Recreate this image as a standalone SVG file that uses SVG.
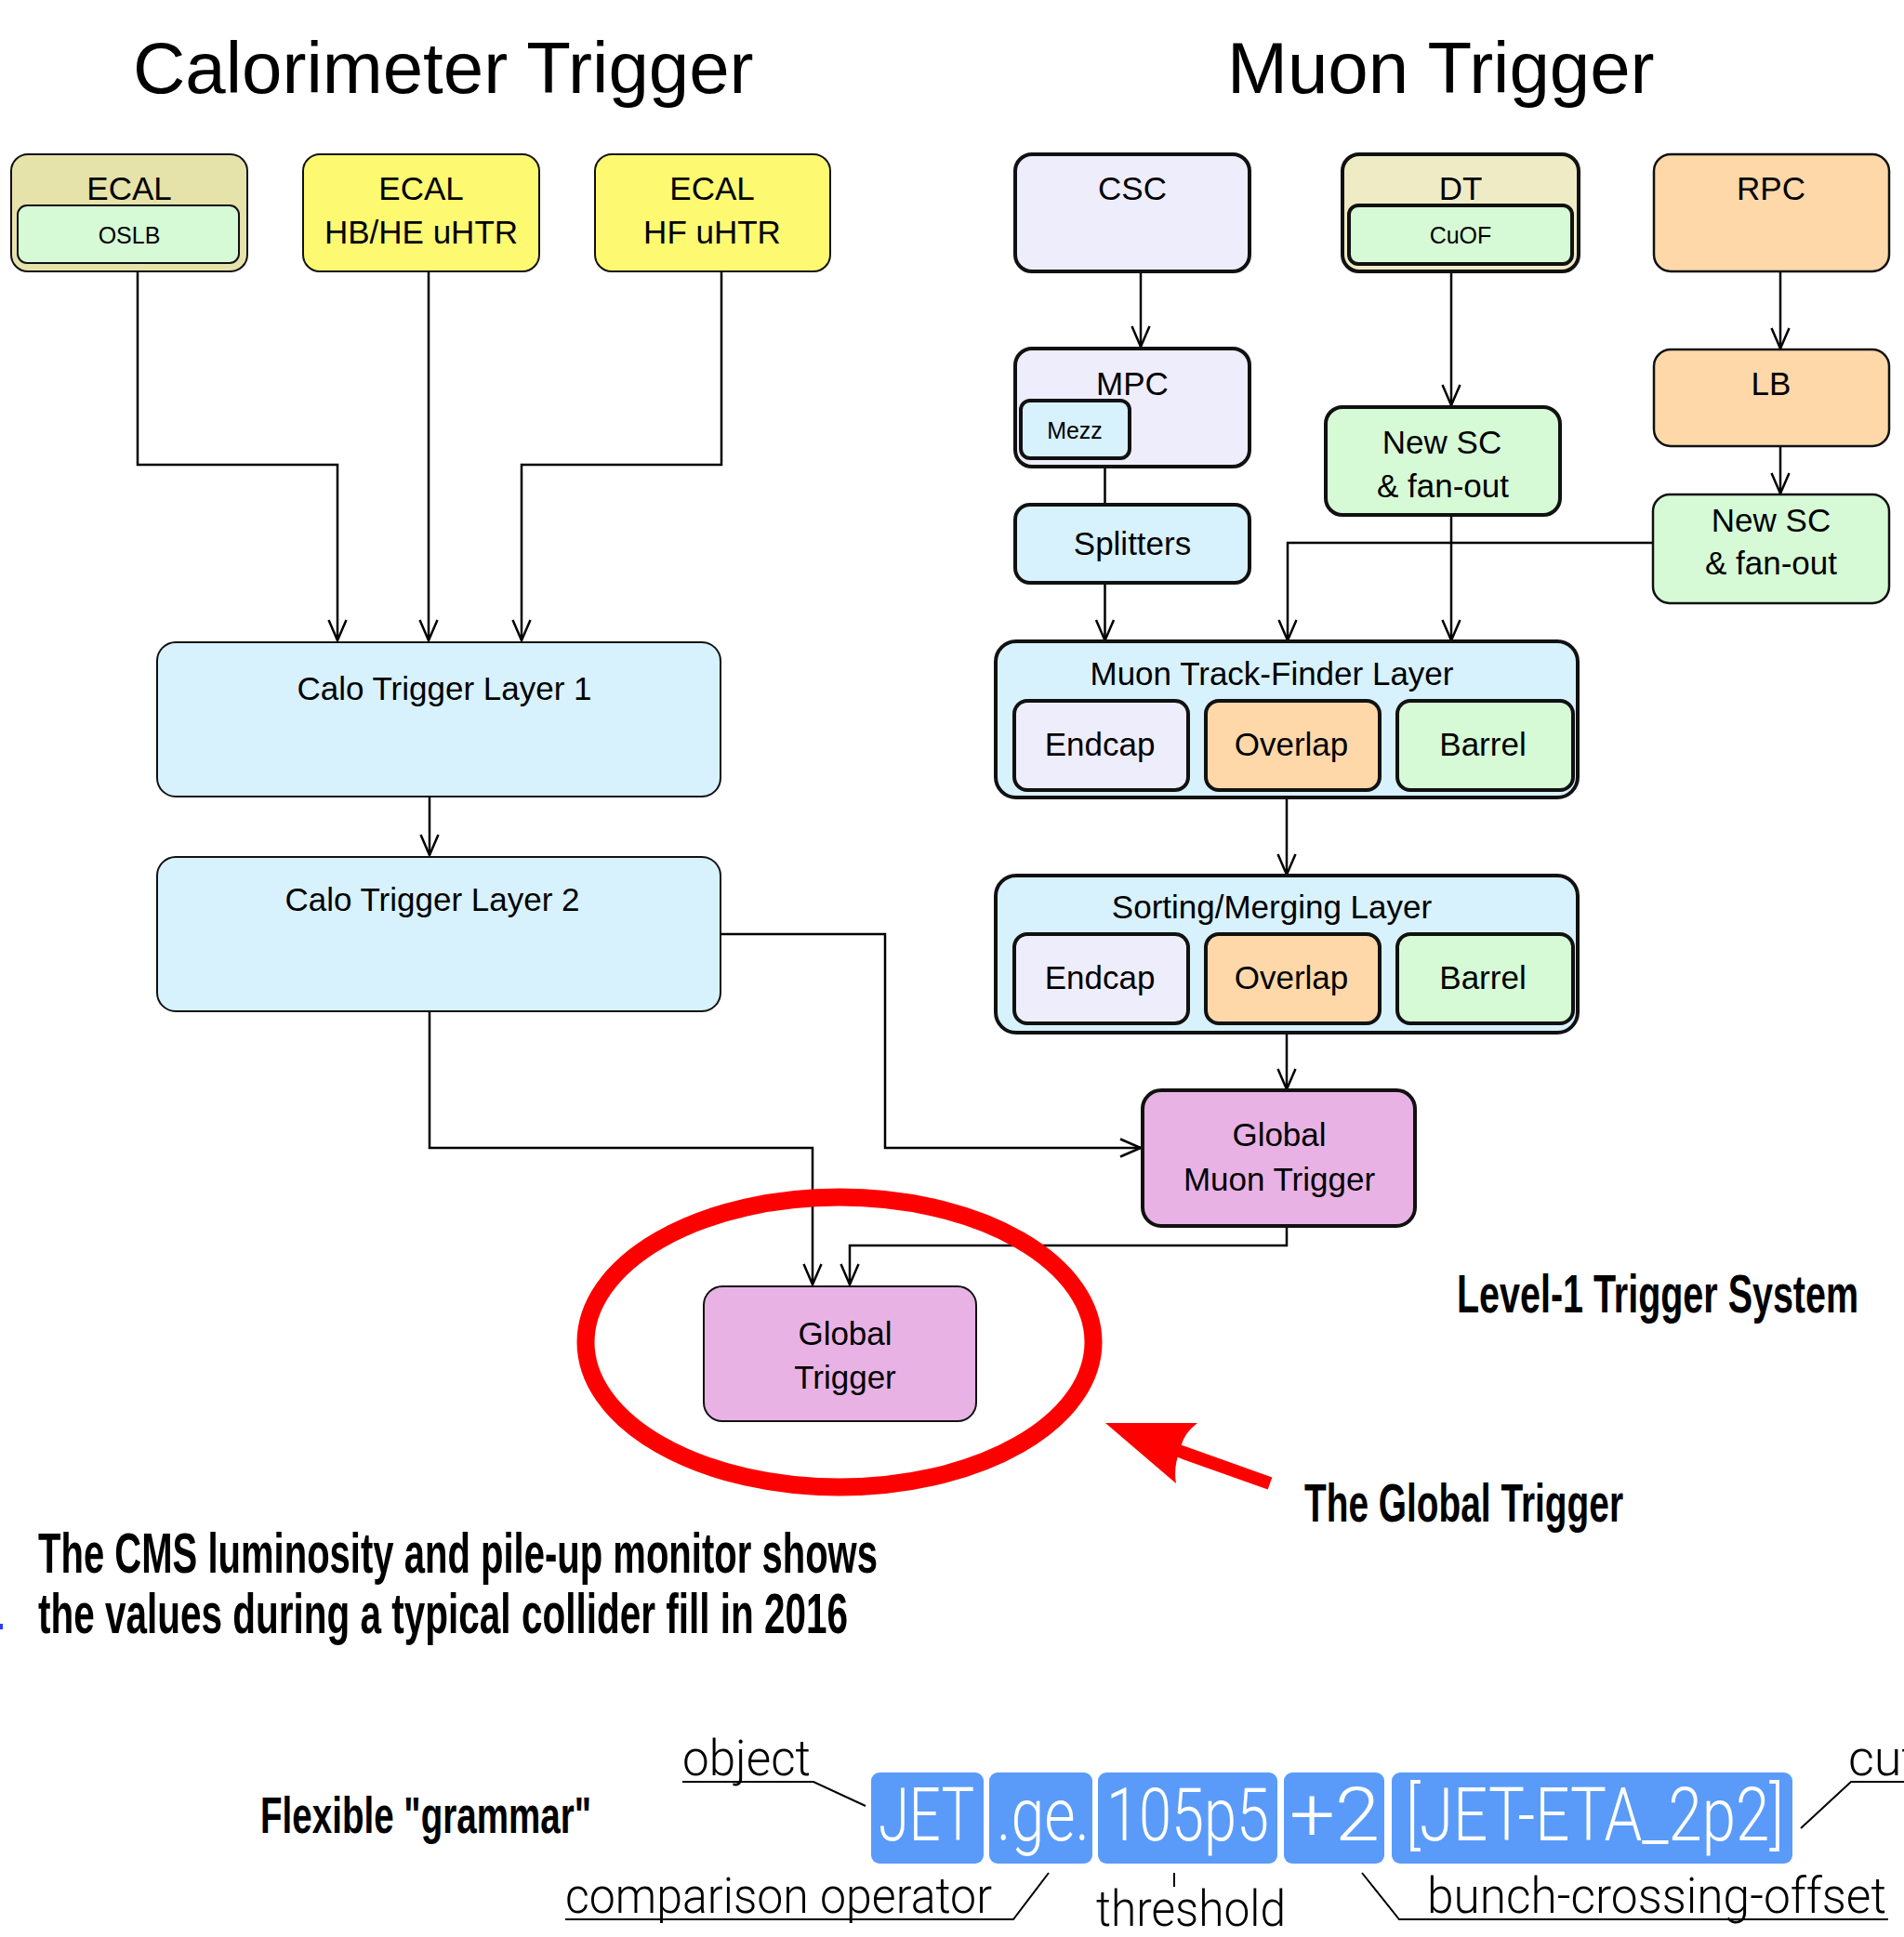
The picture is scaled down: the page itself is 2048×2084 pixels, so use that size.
<svg xmlns="http://www.w3.org/2000/svg" width="2048" height="2084" viewBox="0 0 2048 2084">
<style>
text { font-family: "Liberation Sans", Arial, sans-serif; fill: #000; }
.title { font-size: 78px; }
.n { font-size: 35px; text-anchor: middle; }
.s { font-size: 25px; text-anchor: middle; }
.thin { stroke: #111; stroke-width: 2; }
.mid { stroke: #111; stroke-width: 2.5; }
.thick { stroke: #111; stroke-width: 4; }
.khaki { fill: #e5e3aa; }
.yellow { fill: #fdfa72; }
.green { fill: #d6fad6; }
.blue { fill: #d7f1fd; }
.lav { fill: #eeedfc; }
.dtk { fill: #efecc5; }
.peach { fill: #fed8a8; }
.pink { fill: #e8b2e4; }
.conn path { fill: none; stroke: #000; stroke-width: 2.5; }
.bold { font-weight: bold; }
.gbox { fill: #5a9bf9; }
.gt { fill: #fff; font-size: 80px; font-family: Roboto, "Liberation Sans", sans-serif; font-weight: 300; }
.lab { font-size: 54px; font-family: Roboto, "Liberation Sans", sans-serif; font-weight: 300; }
.ll { fill: none; stroke: #000; stroke-width: 2; }
</style>
<defs>
<marker id="arr" viewBox="-24 -12 26 24" refX="0" refY="0" markerWidth="26" markerHeight="24" orient="auto" markerUnits="userSpaceOnUse">
<path d="M-22,-9.5 L0,0 L-22,9.5" fill="none" stroke="#000" stroke-width="2.5"/>
</marker>
</defs>
<rect width="2048" height="2084" fill="#fff"/>

<text class="title" x="143" y="100">Calorimeter Trigger</text>
<text class="title" x="1320" y="100">Muon Trigger</text>

<g id="connectors" class="conn">
<path d="M148,292 V500 H363 V689" marker-end="url(#arr)"/>
<path d="M461,292 V689" marker-end="url(#arr)"/>
<path d="M776,292 V500 H561 V689" marker-end="url(#arr)"/>
<path d="M462,857 V920" marker-end="url(#arr)"/>
<path d="M462,1088 V1235 H874 V1382" marker-end="url(#arr)"/>
<path d="M775,1005 H952 V1235 H1227" marker-end="url(#arr)"/>
<path d="M1384,1319 V1340 H914 V1382" marker-end="url(#arr)"/>
<path d="M1227,293 V373" marker-end="url(#arr)"/>
<path d="M1188.5,502 V543"/>
<path d="M1188.5,627 V689" marker-end="url(#arr)"/>
<path d="M1561,293 V436" marker-end="url(#arr)"/>
<path d="M1561,543 V689" marker-end="url(#arr)"/>
<path d="M1915,292 V375" marker-end="url(#arr)"/>
<path d="M1915,480 V531" marker-end="url(#arr)"/>
<path d="M1778,584 H1385 V689" marker-end="url(#arr)"/>
<path d="M1384,858 V941" marker-end="url(#arr)"/>
<path d="M1384,1111 V1172" marker-end="url(#arr)"/>
</g>

<g id="ecal-oslb">
<rect class="khaki thin" x="12" y="166" width="254" height="126" rx="18"/>
<rect class="green thin" x="19" y="221" width="238" height="62" rx="10"/>
<text class="n" x="139" y="215">ECAL</text>
<text class="s" x="139" y="262">OSLB</text>
</g>
<g id="ecal-hbhe">
<rect class="yellow thin" x="326" y="166" width="254" height="126" rx="18"/>
<text class="n" x="453" y="215">ECAL</text>
<text class="n" x="453" y="262">HB/HE uHTR</text>
</g>
<g id="ecal-hf">
<rect class="yellow thin" x="640" y="166" width="253" height="126" rx="18"/>
<text class="n" x="766" y="215">ECAL</text>
<text class="n" x="766" y="262">HF uHTR</text>
</g>
<g id="calo-layer1">
<rect class="blue thin" x="169" y="691" width="606" height="166" rx="20"/>
<text class="n" x="478" y="753">Calo Trigger Layer 1</text>
</g>
<g id="calo-layer2">
<rect class="blue thin" x="169" y="922" width="606" height="166" rx="20"/>
<text class="n" x="465" y="980">Calo Trigger Layer 2</text>
</g>
<g id="global-trigger">
<rect class="pink thin" x="757" y="1384" width="293" height="145" rx="20"/>
<text class="n" x="909" y="1447">Global</text>
<text class="n" x="909" y="1494">Trigger</text>
</g>

<g id="csc">
<rect class="lav thick" x="1092" y="166" width="252" height="126" rx="18"/>
<text class="n" x="1218" y="215">CSC</text>
</g>
<g id="dt">
<rect class="dtk thick" x="1444" y="166" width="254" height="126" rx="18"/>
<rect class="green thick" x="1451" y="221" width="240" height="63" rx="10"/>
<text class="n" x="1571" y="215">DT</text>
<text class="s" x="1571" y="262">CuOF</text>
</g>
<g id="rpc">
<rect class="peach mid" x="1779" y="166" width="253" height="126" rx="18"/>
<text class="n" x="1905" y="215">RPC</text>
</g>
<g id="mpc">
<rect class="lav thick" x="1092" y="375" width="252" height="127" rx="18"/>
<text class="n" x="1218" y="425">MPC</text>
<rect class="blue thick" x="1098" y="431" width="117" height="62" rx="10"/>
<text class="s" x="1156" y="472">Mezz</text>
</g>
<g id="splitters">
<rect class="blue thick" x="1092" y="543" width="252" height="84" rx="16"/>
<text class="n" x="1218" y="597">Splitters</text>
</g>
<g id="newsc-dt">
<rect class="green thick" x="1426" y="438" width="252" height="116" rx="18"/>
<text class="n" x="1551" y="488">New SC</text>
<text class="n" x="1552" y="535">&amp; fan-out</text>
</g>
<g id="lb">
<rect class="peach mid" x="1779" y="376" width="253" height="104" rx="18"/>
<text class="n" x="1905" y="425">LB</text>
</g>
<g id="newsc-rpc">
<rect class="green mid" x="1778" y="532" width="254" height="117" rx="18"/>
<text class="n" x="1905" y="572">New SC</text>
<text class="n" x="1905" y="618">&amp; fan-out</text>
</g>
<g id="mtf">
<rect class="blue thick" x="1071" y="690" width="626" height="168" rx="22"/>
<text class="n" x="1368" y="737">Muon Track-Finder Layer</text>
<rect class="lav thick" x="1091" y="754" width="187" height="96" rx="14"/>
<text class="n" x="1183" y="813">Endcap</text>
<rect class="peach thick" x="1297" y="754" width="187" height="96" rx="14"/>
<text class="n" x="1389" y="813">Overlap</text>
<rect class="green thick" x="1503" y="754" width="189" height="96" rx="14"/>
<text class="n" x="1595" y="813">Barrel</text>
</g>
<g id="sml">
<rect class="blue thick" x="1071" y="942" width="626" height="169" rx="22"/>
<text class="n" x="1368" y="988">Sorting/Merging Layer</text>
<rect class="lav thick" x="1091" y="1005" width="187" height="96" rx="14"/>
<text class="n" x="1183" y="1064">Endcap</text>
<rect class="peach thick" x="1297" y="1005" width="187" height="96" rx="14"/>
<text class="n" x="1389" y="1064">Overlap</text>
<rect class="green thick" x="1503" y="1005" width="189" height="96" rx="14"/>
<text class="n" x="1595" y="1064">Barrel</text>
</g>
<g id="gmt">
<rect class="pink thick" x="1229" y="1173" width="293" height="146" rx="20"/>
<text class="n" x="1376" y="1233">Global</text>
<text class="n" x="1376" y="1281">Muon Trigger</text>
</g>

<g id="annotation">
<ellipse cx="903" cy="1444" rx="273" ry="156" fill="none" stroke="#ff0000" stroke-width="19"/>
<line x1="1268" y1="1561" x2="1366" y2="1596" stroke="#ff0000" stroke-width="14"/>
<path d="M1189,1531 L1288,1531 Q1272,1543 1269,1561 Q1262,1578 1265,1596 Z" fill="#ff0000"/>
</g>

<text class="bold" x="1567" y="1412" font-size="58" textLength="432" lengthAdjust="spacingAndGlyphs">Level-1 Trigger System</text>
<text class="bold" x="1403" y="1637" font-size="58" textLength="343" lengthAdjust="spacingAndGlyphs">The Global Trigger</text>
<text class="bold" x="41" y="1692" font-size="61" textLength="903" lengthAdjust="spacingAndGlyphs">The CMS luminosity and pile-up monitor shows</text>
<text class="bold" x="41" y="1757" font-size="61" textLength="871" lengthAdjust="spacingAndGlyphs">the values during a typical collider fill in 2016</text>
<rect x="0" y="1747" width="3" height="6" fill="#2a3cff"/>

<g id="grammar">
<text class="bold" x="280" y="1972" font-size="56" textLength="356" lengthAdjust="spacingAndGlyphs">Flexible "grammar"</text>
<rect class="gbox" x="937" y="1907" width="121" height="98" rx="9"/>
<rect class="gbox" x="1064" y="1907" width="111" height="98" rx="9"/>
<rect class="gbox" x="1181" y="1907" width="193" height="98" rx="9"/>
<rect class="gbox" x="1381" y="1907" width="108" height="98" rx="9"/>
<rect class="gbox" x="1497" y="1907" width="431" height="98" rx="9"/>
<text class="gt" x="945" y="1980" textLength="103" lengthAdjust="spacingAndGlyphs">JET</text>
<text class="gt" x="1072" y="1980" textLength="100" lengthAdjust="spacingAndGlyphs">.ge.</text>
<text class="gt" x="1190" y="1980" textLength="175" lengthAdjust="spacingAndGlyphs">105p5</text>
<text class="gt" x="1387" y="1980" textLength="97" lengthAdjust="spacingAndGlyphs">+2</text>
<text class="gt" x="1512" y="1980" textLength="407" lengthAdjust="spacingAndGlyphs">[JET-ETA_2p2]</text>
<text class="lab" x="734" y="1910" textLength="138" lengthAdjust="spacingAndGlyphs">object</text>
<path class="ll" d="M734,1917 H875 L931,1943"/>
<text class="lab" x="608" y="2058" textLength="459" lengthAdjust="spacingAndGlyphs">comparison operator</text>
<path class="ll" d="M608,2065 H1090 L1128,2015"/>
<text class="lab" x="1179" y="2072" textLength="204" lengthAdjust="spacingAndGlyphs">threshold</text>
<path class="ll" d="M1263,2015 V2030"/>
<text class="lab" x="1535" y="2058" textLength="494" lengthAdjust="spacingAndGlyphs">bunch-crossing-offset</text>
<path class="ll" d="M2031,2065 H1505 L1465,2015"/>
<text class="lab" x="1988" y="1910">cut</text>
<path class="ll" d="M2048,1917 H1991 L1937,1967"/>
</g>
</svg>
